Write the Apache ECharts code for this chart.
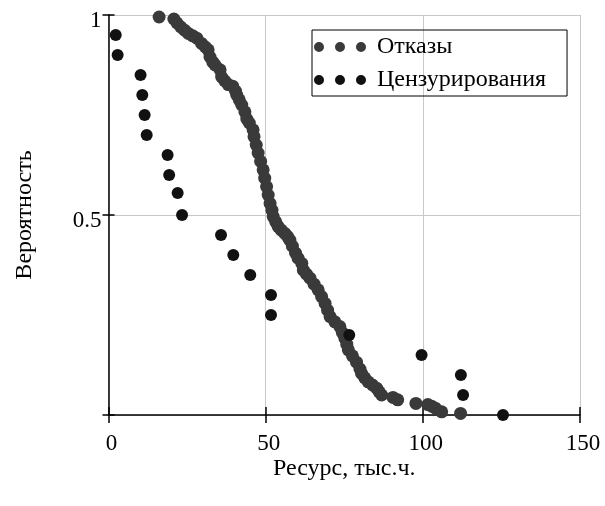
<!DOCTYPE html>
<html>
<head>
<meta charset="utf-8">
<script src="https://cdn.jsdelivr.net/npm/echarts@6/dist/echarts.min.js"></script>
<style>html,body{margin:0;padding:0;background:#fff;}#c{width:605px;height:506px;}</style>
</head>
<body>
<div id="c"></div>
<script>
// Отказы (failures): [resource, probability]
var failures = [
  [16.1,0.995],[20.8,0.99],[21.8,0.98],[23.0,0.97],[24.2,0.962],[25.4,0.954],[26.8,0.948],[28.1,0.942],
  [29.6,0.929],[30.8,0.92],[31.7,0.913],[32.3,0.895],[33.2,0.882],[33.9,0.875],[35.5,0.863],[36.0,0.845],
  [37.0,0.835],[38.1,0.826],[39.5,0.822],[40.4,0.81],[40.8,0.8],[41.6,0.788],[42.4,0.775],[43.4,0.758],
  [44.0,0.74],[44.8,0.73],[46.0,0.713],[46.3,0.696],[47.0,0.675],[47.6,0.655],[48.4,0.634],[49.2,0.613],
  [49.7,0.592],[50.3,0.571],[50.8,0.55],[51.4,0.529],[52.0,0.512],[52.4,0.496],[53.2,0.483],[54.0,0.471],
  [55.0,0.462],[56.1,0.454],[57.0,0.446],[57.7,0.437],[58.5,0.422],[59.5,0.405],[60.3,0.392],[61.5,0.379],
  [62.0,0.362],[63.0,0.352],[64.1,0.342],[65.4,0.327],[66.7,0.313],[67.8,0.296],[68.9,0.279],[69.7,0.262],
  [70.5,0.246],[72.0,0.233],[73.6,0.221],[74.4,0.206],[75.2,0.192],[75.8,0.177],[76.3,0.163],[77.6,0.148],
  [78.9,0.132],[80.0,0.115],[80.5,0.104],[81.5,0.093],[82.6,0.083],[84.0,0.075],[85.3,0.067],[86.1,0.058],
  [86.9,0.05],[90.5,0.044],[92.0,0.038],[97.8,0.029],[101.6,0.026],[102.8,0.022],[104.0,0.017],[106.0,0.008],
  [112.0,0.004]
];
// Цензурирования (censored): [resource, probability]
var censored = [
  [2.3,0.95],[2.9,0.9],[10.2,0.85],[10.75,0.8],[11.5,0.75],[12.15,0.7],[18.8,0.65],[19.3,0.6],
  [22.0,0.555],[23.4,0.5],[35.8,0.45],[39.7,0.4],[45.1,0.35],[51.7,0.3],[51.7,0.25],[76.6,0.2],
  [99.6,0.15],[112.1,0.1],[112.8,0.05],[125.5,0.0]
];
var seriesNames = ['Отказы', 'Цензурирования'];
var xTicks = [0, 50, 100, 150];
var yTickLabels = {'0.5': '0.5', '1': '1'};
var xName = 'Ресурс, тыс.ч.';
var yName = 'Вероятность';

var FONT = 'Liberation Serif';
var dots = 'path://M0,5a5,5 0 1,0 10,0a5,5 0 1,0 -10,0zM21,5a5,5 0 1,0 10,0a5,5 0 1,0 -10,0zM42,5a5,5 0 1,0 10,0a5,5 0 1,0 -10,0z';

var chart = echarts.init(document.getElementById('c'), null, {renderer: 'canvas'});
var xBase = {
  type: 'value', min: xTicks[0], max: xTicks[xTicks.length - 1], interval: 50,
  position: 'bottom', gridIndex: 0
};
var yBase = {type: 'value', min: 0, max: 1, interval: 0.5, position: 'left', gridIndex: 0};

chart.setOption({
  animation: false,
  backgroundColor: '#fff',
  grid: {left: 108.5, right: 25, top: 15, bottom: 91, containLabel: false},
  legend: {
    left: 312, top: 30, orient: 'vertical',
    borderColor: '#000', borderWidth: 1, padding: [5, 21, 4, 2],
    itemWidth: 52, itemHeight: 10, itemGap: 9,
    textStyle: {fontFamily: FONT, fontSize: 24, lineHeight: 24, color: '#000', padding: [0, 0, 0, 6]},
    data: [
      {name: seriesNames[0], icon: dots, itemStyle: {color: '#3a3a3a'}},
      {name: seriesNames[1], icon: dots, itemStyle: {color: '#111'}}
    ]
  },
  xAxis: [
    Object.assign({}, xBase, {
      name: xName, nameLocation: 'middle', nameGap: 42, nameMoveOverlap: false,
      nameTextStyle: {fontFamily: FONT, fontSize: 24, color: '#000'},
      axisLine: {onZero: false, lineStyle: {color: '#000', width: 1.5}},
      axisTick: {show: true, length: 8, lineStyle: {color: '#000', width: 1.5}},
      axisLabel: {fontFamily: FONT, fontSize: 23, color: '#000', margin: 17, padding: [0, 0, 0, 6]},
      splitLine: {show: true, lineStyle: {color: '#c8c8c8', width: 1}}
    }),
    Object.assign({}, xBase, {
      axisLine: {show: false},
      axisTick: {show: true, inside: true, length: 8, lineStyle: {color: '#000', width: 1.5}},
      axisLabel: {show: false}, splitLine: {show: false}
    })
  ],
  yAxis: [
    Object.assign({}, yBase, {
      name: yName, nameLocation: 'middle', nameGap: 72, nameRotate: 90,
      nameTextStyle: {fontFamily: FONT, fontSize: 24, color: '#000'},
      axisLine: {onZero: false, lineStyle: {color: '#000', width: 1.5}},
      axisTick: {show: true, length: 6, lineStyle: {color: '#000', width: 1.5}},
      axisLabel: {
        fontFamily: FONT, fontSize: 23, color: '#000', margin: 7,
        verticalAlign: 'top', lineHeight: 11,
        formatter: function (v) { return yTickLabels[String(v)] || ''; }
      },
      splitLine: {show: true, lineStyle: {color: '#c8c8c8', width: 1}}
    }),
    Object.assign({}, yBase, {
      axisLine: {show: false},
      axisTick: {show: true, inside: true, length: 6, lineStyle: {color: '#000', width: 1.5}},
      axisLabel: {show: false}, splitLine: {show: false}
    })
  ],
  series: [
    {
      name: seriesNames[0], type: 'scatter', xAxisIndex: 0, yAxisIndex: 0,
      data: failures, symbol: 'circle', symbolSize: 13,
      itemStyle: {color: '#3a3a3a', opacity: 1}, z: 3
    },
    {
      name: seriesNames[1], type: 'scatter', xAxisIndex: 0, yAxisIndex: 0,
      data: censored, symbol: 'circle', symbolSize: 12,
      itemStyle: {color: '#111', opacity: 1}, z: 4
    }
  ]
});
</script>
</body>
</html>
